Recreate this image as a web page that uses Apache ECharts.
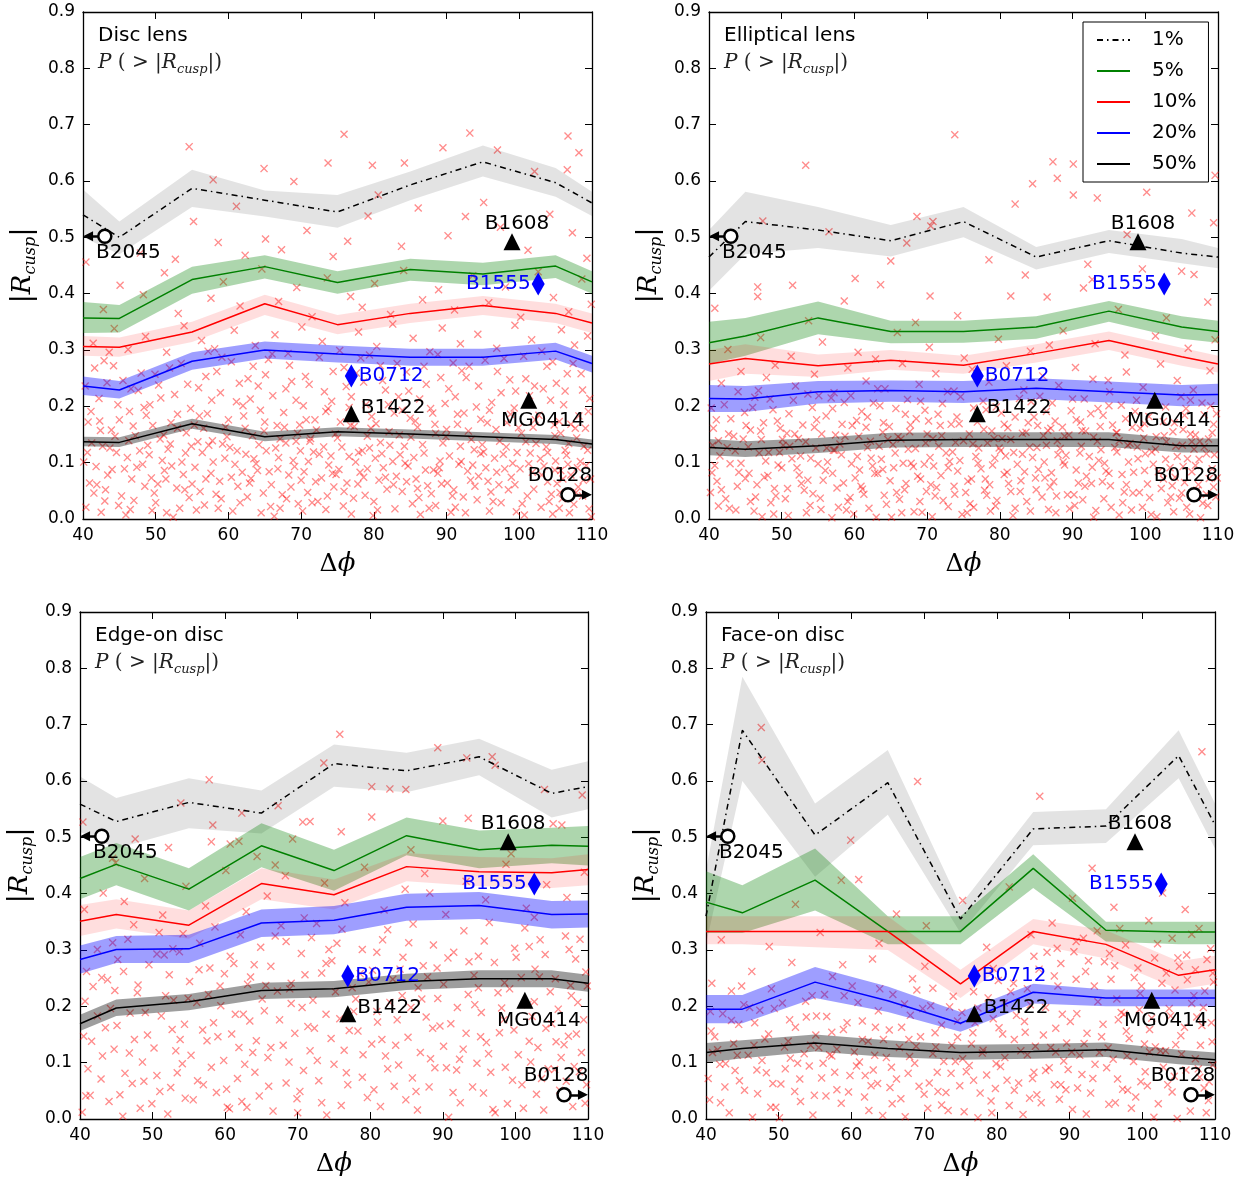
<!DOCTYPE html>
<html>
<head>
<meta charset="utf-8">
<script src="https://cdn.jsdelivr.net/npm/echarts@6/dist/echarts.min.js"></script>
<style>
html, body { margin: 0; padding: 0; background: #fff; }
#main { width: 1250px; height: 1183px; }
</style>
</head>
<body>
<div id="main"></div>
<script>
// opening angle bins
var dphi = [40, 45, 55, 65, 75, 85, 95, 105, 110];
var levelNames = ['1%', '5%', '10%', '20%', '50%'];

// each row: [line, band low, band high]
var discP1 = [[.54,.50,.585],[.50,.47,.528],[.587,.554,.62],[.566,.537,.583],[.545,.517,.575],[.593,.566,.617],[.634,.608,.663],[.597,.572,.623],[.561,.538,.581]];
var discP5 = [[.357,.33,.385],[.356,.331,.38],[.425,.40,.448],[.448,.427,.468],[.42,.40,.44],[.443,.423,.462],[.435,.415,.455],[.449,.428,.468],[.421,.40,.44]];
var discP10 = [[.306,.29,.325],[.305,.288,.322],[.332,.314,.35],[.382,.362,.398],[.345,.328,.362],[.365,.348,.382],[.379,.362,.396],[.365,.348,.382],[.348,.33,.365]];
var discP20 = [[.236,.22,.253],[.229,.214,.245],[.28,.265,.296],[.30,.285,.315],[.293,.278,.308],[.287,.272,.302],[.287,.272,.302],[.298,.283,.313],[.276,.26,.29]];
var discP50 = [[.137,.129,.146],[.136,.128,.145],[.169,.16,.178],[.146,.138,.155],[.155,.147,.163],[.151,.143,.159],[.146,.138,.154],[.141,.133,.149],[.133,.125,.141]];

var ellP1 = [[.465,.405,.513],[.528,.47,.581],[.513,.481,.554],[.494,.466,.522],[.528,.50,.554],[.465,.443,.483],[.494,.472,.513],[.472,.454,.497],[.465,.445,.481]];
var ellP5 = [[.313,.275,.35],[.325,.29,.357],[.357,.328,.386],[.333,.312,.352],[.333,.313,.352],[.341,.32,.36],[.369,.35,.387],[.341,.32,.36],[.333,.313,.352]];
var ellP10 = [[.275,.245,.30],[.285,.258,.31],[.272,.252,.292],[.282,.265,.30],[.273,.258,.29],[.294,.278,.31],[.317,.30,.333],[.288,.272,.304],[.275,.26,.29]];
var ellP20 = [[.214,.19,.238],[.213,.19,.236],[.226,.205,.245],[.228,.208,.246],[.226,.206,.245],[.232,.213,.25],[.226,.207,.244],[.22,.20,.238],[.221,.202,.24]];
var ellP50 = [[.127,.113,.142],[.124,.11,.138],[.13,.117,.144],[.14,.127,.153],[.141,.128,.154],[.141,.128,.154],[.141,.128,.154],[.13,.118,.143],[.13,.118,.143]];

var edgeP1 = [[.559,.51,.608],[.528,.48,.57],[.562,.516,.605],[.543,.507,.583],[.631,.59,.665],[.618,.58,.65],[.643,.61,.675],[.578,.535,.62],[.59,.55,.635]];
var edgeP5 = [[.427,.39,.465],[.452,.415,.49],[.408,.37,.445],[.485,.447,.525],[.441,.405,.478],[.503,.468,.535],[.478,.445,.512],[.486,.454,.517],[.484,.45,.52]];
var edgeP10 = [[.351,.325,.38],[.363,.338,.39],[.344,.32,.37],[.418,.39,.445],[.398,.372,.425],[.448,.422,.472],[.439,.413,.465],[.437,.41,.463],[.443,.415,.47]];
var edgeP20 = [[.283,.258,.308],[.301,.277,.325],[.302,.277,.327],[.348,.323,.372],[.353,.328,.378],[.376,.352,.40],[.379,.355,.403],[.363,.338,.387],[.364,.34,.388]];
var edgeP50 = [[.169,.156,.185],[.197,.183,.212],[.208,.193,.222],[.228,.213,.242],[.231,.216,.245],[.244,.229,.258],[.249,.234,.264],[.249,.234,.264],[.241,.226,.256]];

var faceP1 = [[.36,.31,.442],[.69,.60,.785],[.504,.43,.56],[.597,.54,.655],[.355,.33,.38],[.515,.486,.545],[.52,.49,.55],[.645,.605,.69],[.522,.48,.56]];
var faceP5 = [[.385,.33,.44],[.366,.33,.415],[.424,.37,.48],[.333,.31,.36],[.333,.31,.36],[.445,.41,.47],[.335,.315,.35],[.332,.31,.35],[.332,.31,.35]];
var faceP10 = [[.333,.31,.36],[.333,.31,.36],[.333,.305,.36],[.333,.30,.36],[.24,.215,.265],[.333,.31,.355],[.31,.285,.335],[.255,.23,.28],[.265,.24,.29]];
var faceP20 = [[.195,.17,.22],[.195,.17,.22],[.243,.215,.27],[.21,.19,.235],[.17,.155,.19],[.225,.205,.24],[.215,.20,.23],[.215,.20,.23],[.215,.20,.23]];
var faceP50 = [[.118,.10,.135],[.125,.108,.14],[.135,.12,.15],[.125,.11,.14],[.118,.105,.132],[.12,.107,.133],[.123,.11,.136],[.11,.097,.123],[.105,.093,.118]];

// observed lenses
var lensNames = ['B2045', 'B1608', 'B1555', 'B0712', 'B1422', 'MG0414', 'B0128'];
var lensDphi = [43.0, 99.0, 102.6, 76.9, 76.9, 101.3, 106.7];
var lensR = [0.502, 0.492, 0.417, 0.254, 0.187, 0.211, 0.043];

// simulated cusp values
var discPts = [
[40.4,.021],[41.8,.093],[43.1,.052],[44.6,.118],[45.9,.007],[46.7,.071],[41.2,.135],[42.5,.012],[44.0,.088],[45.3,.041],[46.1,.109],[40.9,.064],[43.7,.126],[47.0,.033],
[48.2,.097],[49.5,.015],[50.3,.062],[51.7,.124],[52.4,.003],[53.8,.079],[54.6,.038],[48.9,.131],[50.9,.104],[52.9,.055],[54.1,.117],[49.8,.046],[51.2,.086],[53.3,.019],
[55.4,.092],[56.7,.025],[57.3,.131],[58.8,.067],[59.5,.108],[60.6,.014],[61.9,.083],[56.1,.049],[57.9,.101],[59.0,.036],[60.2,.127],[61.3,.058],[62.4,.115],[55.8,.137],
[63.1,.072],[64.5,.011],[65.2,.121],[66.8,.089],[67.4,.043],[68.9,.104],[69.6,.027],[63.8,.098],[65.9,.061],[67.9,.135],[68.3,.078],[69.1,.093],[64.2,.132],[66.3,.005],
[70.4,.084],[71.7,.119],[72.3,.031],[73.8,.096],[74.5,.057],[75.6,.128],[76.9,.009],[70.9,.047],[72.8,.073],[74.1,.112],[75.2,.088],[76.3,.064],[71.2,.138],[73.4,.017],
[77.5,.101],[78.8,.042],[79.4,.126],[80.7,.069],[81.3,.091],[82.9,.018],[83.6,.114],[78.1,.083],[79.9,.006],[81.8,.053],[82.2,.131],[83.1,.076],[77.8,.062],[80.2,.108],
[84.7,.094],[85.3,.027],[86.9,.117],[87.4,.059],[88.8,.081],[89.5,.135],[90.6,.012],[85.8,.071],[87.9,.045],[89.1,.103],[84.2,.129],[86.4,.008],[88.2,.087],[90.1,.064],
[91.7,.097],[92.3,.039],[93.8,.123],[94.4,.076],[95.9,.014],[96.6,.108],[97.2,.061],[92.9,.085],[94.9,.132],[96.1,.048],[91.2,.021],[93.3,.069],[95.4,.091],[97.8,.115],
[98.5,.052],[99.7,.118],[100.4,.027],[101.8,.083],[102.3,.134],[103.9,.066],[104.6,.009],[99.1,.099],[101.1,.041],[102.9,.107],[98.9,.074],[100.9,.137],[103.4,.094],[104.1,.031],
[105.7,.086],[106.3,.122],[107.8,.047],[108.4,.102],[109.6,.018],[105.2,.063],[106.9,.011],[108.9,.129],[107.1,.078],[109.2,.095],[105.9,.036],[108.1,.057],[106.5,.113],[109.8,.071],
[40.1,.101],[41.5,.046],[42.7,.129],[43.4,.078],[44.9,.024],[46.3,.139],[47.4,.092],[48.5,.058],[49.1,.114],[50.0,.029],
[51.4,.071],[52.0,.133],[53.6,.101],[55.0,.062],[55.6,.016],[56.4,.118],[57.6,.081],[58.3,.044],[59.2,.133],[60.9,.097],
[61.6,.029],[62.9,.064],[63.5,.107],[64.8,.046],[65.6,.084],[66.5,.126],[67.1,.019],[68.6,.057],[69.9,.121],[70.2,.014],
[71.0,.102],[72.0,.066],[73.1,.128],[73.6,.041],[74.8,.079],[75.8,.023],[76.6,.111],[77.2,.037],[78.4,.121],[79.1,.089],
[80.0,.031],[80.9,.136],[81.6,.074],[82.6,.102],[83.9,.049],[84.5,.066],[85.5,.109],[86.2,.038],[87.1,.087],[88.5,.024],
[89.3,.062],[90.4,.112],[91.0,.052],[91.9,.129],[92.6,.011],[93.6,.096],[94.2,.034],[95.1,.119],[95.7,.067],[96.9,.083],
[97.5,.029],[98.2,.128],[99.4,.061],[100.1,.089],[100.7,.007],[101.5,.117],[102.0,.053],[103.1,.078],[103.7,.128],[104.4,.044],
[105.0,.103],[105.5,.019],[106.0,.071],[106.8,.134],[107.5,.026],[108.0,.091],[108.7,.041],[109.4,.122],[109.9,.004],[104.9,.087],
[40.6,.118],[41.9,.061],[42.3,.174],[43.0,.032],[44.4,.147],[45.7,.089],[46.5,.017],[47.8,.121],[48.4,.198],[49.4,.073],
[50.6,.142],[51.5,.011],[52.2,.094],[53.0,.161],[54.0,.052],[54.9,.129],[56.0,.183],[56.9,.071],[57.8,.139],[58.6,.019],
[59.6,.163],[60.4,.074],[61.2,.121],[62.0,.201],[62.6,.039],[63.3,.148],[64.0,.086],[65.0,.172],[65.8,.022],[66.9,.109],
[67.7,.163],[68.0,.036],[69.3,.138],[70.0,.069],[70.7,.176],[71.5,.029],[72.5,.115],[73.4,.191],[74.3,.081],[75.0,.144],
[75.9,.049],[76.8,.166],[77.9,.118],[78.6,.074],[79.6,.161],[80.5,.016],[81.1,.116],[82.0,.203],[82.7,.061],[83.5,.149],
[84.3,.099],[85.0,.179],[86.0,.054],[86.7,.132],[87.6,.019],[88.4,.168],[89.0,.091],[89.9,.146],[90.8,.041],[91.5,.186],
[92.0,.102],[93.0,.156],[93.9,.058],[94.7,.116],[95.6,.171],[96.4,.031],[97.3,.138],[98.0,.089],[98.8,.186],[99.6,.013],
[100.3,.152],[101.3,.098],[102.2,.176],[103.0,.021],[103.9,.118],[104.8,.167],[105.6,.047],[106.7,.097],[107.7,.161],[108.8,.069],
[40.7,.172],[42.2,.214],[43.9,.158],[45.5,.246],[46.4,.191],[41.6,.268],[44.8,.203],[42.9,.281],[46.9,.165],[47.6,.228],
[48.7,.184],[49.9,.257],[51.1,.149],[52.6,.221],[53.5,.276],[54.8,.196],[50.4,.238],[52.1,.171],[49.2,.203],[54.2,.153],
[55.9,.233],[57.1,.187],[58.4,.262],[59.8,.146],[61.1,.208],[62.7,.249],[56.6,.161],[60.4,.279],[58.9,.224],[62.1,.183],
[63.4,.271],[64.9,.156],[66.1,.219],[67.6,.189],[68.7,.244],[69.8,.167],[65.5,.283],[67.1,.142],[64.1,.236],[69.3,.211],
[70.6,.253],[71.9,.176],[73.2,.226],[74.7,.151],[75.9,.269],[76.6,.198],[72.5,.287],[74.2,.209],[71.3,.143],[76.2,.235],
[77.3,.164],[78.6,.243],[79.7,.182],[80.9,.272],[82.1,.155],[83.4,.217],[78.2,.286],[81.6,.229],[79.1,.147],[83.9,.193],
[84.5,.261],[85.7,.174],[87.2,.239],[88.5,.152],[89.8,.205],[90.9,.277],[86.3,.213],[88.1,.188],[85.1,.145],[90.3,.231],
[91.5,.168],[92.7,.251],[94.1,.199],[95.3,.282],[96.8,.159],[97.5,.224],[93.4,.141],[96.2,.207],[92.1,.263],[94.7,.177],
[98.7,.247],[99.9,.162],[101.4,.219],[102.7,.184],[103.8,.271],[104.9,.148],[100.6,.289],[102.1,.236],[99.3,.197],[104.3,.211],
[105.5,.173],[106.6,.258],[107.9,.144],[108.7,.229],[109.5,.191],[106.1,.203],[107.4,.276],[109.1,.161],[105.1,.241],[108.2,.183],
[40.3,.236],[41.1,.191],[42.4,.157],[43.3,.242],[44.2,.272],[45.0,.176],[46.6,.231],[47.2,.148],[48.0,.259],[49.6,.166],
[50.7,.215],[51.9,.268],[53.0,.186],[54.4,.239],[55.3,.167],[56.9,.253],[57.7,.211],[59.1,.287],[60.0,.176],[61.5,.241],
[62.3,.161],[63.0,.213],[64.4,.193],[65.1,.256],[66.7,.166],[67.9,.231],[68.4,.273],[69.5,.152],[70.3,.201],[71.1,.239],
[72.1,.158],[73.7,.196],[74.4,.262],[75.4,.172],[76.9,.217],[77.6,.259],[78.9,.203],[80.3,.169],[81.2,.246],[82.8,.188],
[83.2,.276],[84.8,.227],[86.0,.163],[86.9,.271],[87.8,.196],[89.2,.251],[90.0,.159],[91.2,.217],[92.4,.188],[93.1,.271],
[94.4,.236],[95.9,.193],[97.0,.262],[98.3,.171],[99.5,.227],[100.9,.249],[101.9,.163],[103.3,.231],[104.6,.279],[106.3,.227],
[107.1,.168],[108.5,.258],[109.7,.214],[105.7,.152],[97.9,.285],[88.8,.292],[79.4,.291],[57.2,.298],[43.6,.296],[66.0,.293],
[41.4,.312],[44.3,.338],[46.2,.301],[48.6,.324],[51.5,.296],[53.9,.343],[56.3,.317],[58.1,.302],[60.8,.335],[63.7,.308],
[66.4,.327],[68.2,.294],[70.1,.341],[72.9,.315],[75.3,.299],[77.9,.332],[80.4,.306],[82.6,.346],[85.4,.321],[87.7,.297],
[89.4,.339],[91.9,.311],[94.3,.328],[96.9,.303],[99.4,.344],[101.7,.318],[103.1,.298],[105.8,.336],[107.6,.309],[109.4,.325],
[42.8,.372],[45.1,.415],[48.3,.398],[51.2,.437],[53.1,.365],[57.6,.392],[59.3,.421],[61.6,.378],[64.6,.444],[66.9,.386],
[69.4,.411],[71.5,.359],[73.6,.428],[76.8,.395],[78.4,.376],[80.1,.418],[82.3,.363],[84.1,.441],[86.7,.389],[88.9,.407],
[91.1,.371],[93.6,.432],[95.8,.384],[98.1,.412],[100.2,.358],[102.6,.439],[104.7,.393],[106.8,.368],[108.6,.426],[109.9,.381],
[40.4,.456],[47.9,.472],[52.7,.461],[55.2,.528],[58.6,.491],[62.3,.468],[65.1,.497],[67.3,.478],[70.8,.512],[74.4,.466],
[76.4,.493],[79.2,.538],[83.8,.484],[86.1,.552],[90.2,.503],[92.6,.537],[97.4,.518],[101.2,.477],[104.2,.541],[107.3,.508],
[109.3,.463],[61.1,.555],[80.6,.575],[95.1,.562],
[54.6,.661],[57.9,.602],[64.9,.622],[69.0,.599],[75.9,.683],[93.2,.685],[106.7,.68],[108.2,.65],[73.7,.632],[79.8,.628],
[84.2,.632],[89.5,.659],[97.0,.655],[106.6,.62],[102.1,.617]
];

var ellPts = [
[40.2,.047],[41.5,.112],[42.8,.019],[44.1,.083],[45.4,.128],[46.6,.061],[47.3,.004],[40.8,.095],[42.3,.036],[43.6,.121],[45.0,.072],[46.2,.014],[47.8,.103],[41.1,.067],
[48.5,.029],[49.7,.118],[50.8,.054],[52.1,.091],[53.4,.011],[54.7,.126],[48.1,.077],[49.2,.041],[51.4,.107],[52.7,.063],[53.9,.024],[55.0,.098],[50.2,.131],[54.3,.045],
[55.7,.069],[56.9,.002],[58.2,.114],[59.4,.038],[60.7,.087],[61.8,.127],[56.3,.101],[57.6,.055],[58.9,.016],[60.1,.073],[61.3,.044],[62.5,.094],[57.1,.122],[59.9,.009],
[63.2,.081],[64.4,.026],[65.6,.117],[66.9,.052],[68.1,.093],[69.3,.012],[63.7,.106],[64.9,.068],[66.2,.035],[67.4,.124],[68.7,.076],[69.9,.049],[65.1,.003],[67.8,.099],
[70.5,.061],[71.6,.129],[72.9,.022],[74.2,.085],[75.3,.047],[76.7,.111],[70.9,.094],[72.2,.033],[73.5,.119],[74.8,.008],[76.1,.071],[71.3,.056],[73.1,.102],[75.9,.027],
[77.4,.089],[78.7,.014],[79.9,.126],[81.2,.063],[82.4,.097],[83.7,.031],[77.9,.051],[79.3,.108],[80.6,.079],[81.8,.006],[83.1,.115],[78.2,.042],[80.1,.121],[82.9,.068],
[84.5,.109],[85.8,.039],[87.1,.082],[88.3,.125],[89.6,.018],[90.8,.064],[84.9,.073],[86.4,.131],[87.7,.011],[88.9,.096],[90.2,.043],[85.3,.088],[86.9,.057],[89.1,.113],
[91.4,.034],[92.7,.092],[93.9,.123],[95.2,.059],[96.4,.007],[97.7,.101],[91.9,.076],[93.2,.015],[94.6,.085],[95.8,.127],[97.1,.048],[92.3,.111],[94.1,.066],[96.9,.029],
[98.4,.083],[99.6,.021],[100.9,.119],[102.2,.054],[103.4,.091],[104.7,.037],[98.9,.128],[100.3,.062],[101.6,.004],[102.8,.106],[104.1,.074],[99.2,.047],[101.1,.097],[103.9,.013],
[105.4,.065],[106.7,.124],[107.9,.028],[109.2,.089],[105.8,.107],[107.1,.051],[108.4,.116],[109.7,.039],[106.1,.009],[108.8,.072],[105.1,.131],[106.4,.084],[107.6,.002],[109.4,.057],
[40.4,.082],[41.3,.023],[42.5,.127],[43.9,.058],[44.4,.099],[45.7,.031],[46.9,.117],[47.6,.074],[48.9,.009],[49.5,.096],
[50.5,.036],[51.1,.129],[52.4,.078],[53.1,.051],[54.0,.108],[55.4,.017],[56.0,.086],[57.3,.122],[58.5,.064],[59.1,.031],
[60.4,.111],[61.1,.053],[62.0,.019],[62.8,.081],[63.4,.129],[64.1,.042],[65.4,.091],[66.5,.011],[67.1,.063],[68.4,.125],
[69.0,.031],[69.6,.097],[70.7,.004],[71.9,.077],[72.6,.117],[73.8,.044],[74.5,.104],[75.6,.067],[76.4,.021],[77.1,.126],
[78.0,.071],[79.0,.096],[79.6,.033],[80.8,.112],[81.5,.049],[82.1,.019],[83.4,.084],[84.1,.128],[85.0,.052],[86.1,.101],
[86.7,.017],[87.4,.066],[88.0,.114],[89.3,.043],[90.5,.087],[91.2,.129],[91.7,.058],[92.9,.003],[93.6,.104],[94.3,.036],
[95.0,.081],[96.1,.119],[97.4,.061],[98.1,.016],[99.0,.107],[99.9,.086],[100.6,.038],[101.4,.124],[102.5,.071],[103.1,.029],
[104.4,.111],[105.0,.046],[105.7,.021],[106.9,.095],[107.3,.061],[108.1,.128],[108.6,.024],[109.5,.114],[109.9,.073],[103.7,.059],
[40.5,.131],[41.7,.052],[42.9,.098],[43.7,.016],[44.7,.142],[45.5,.081],[46.4,.039],[47.1,.156],[48.2,.118],[49.0,.054],
[50.0,.091],[50.9,.006],[51.8,.151],[52.6,.112],[53.6,.069],[54.5,.163],[55.3,.037],[56.2,.126],[57.0,.081],[57.8,.021],
[58.7,.147],[59.6,.098],[60.9,.058],[61.6,.163],[62.3,.108],[63.0,.003],[63.9,.088],[64.6,.141],[65.8,.047],[66.7,.099],
[67.6,.155],[68.2,.013],[69.1,.071],[69.8,.135],[70.4,.109],[71.1,.041],[72.0,.148],[72.9,.091],[73.7,.058],[74.4,.169],
[75.5,.011],[76.3,.133],[77.0,.099],[77.8,.159],[78.6,.061],[79.4,.023],[80.3,.143],[81.0,.083],[81.9,.118],[82.8,.049],
[83.6,.154],[84.2,.014],[85.1,.127],[86.2,.073],[87.0,.161],[87.8,.041],[88.7,.101],[89.5,.149],[90.3,.024],[91.0,.117],
[91.8,.156],[92.6,.063],[93.4,.138],[94.4,.099],[95.3,.021],[96.0,.153],[96.8,.079],[97.6,.131],[98.3,.046],[99.3,.161],
[100.0,.116],[100.8,.008],[101.8,.084],[102.6,.148],[103.5,.039],[104.2,.129],[105.2,.093],[106.2,.151],[107.4,.106],[108.4,.044],
[40.6,.161],[42.1,.203],[43.4,.147],[44.9,.189],[46.3,.216],[47.5,.171],[41.3,.139],[45.7,.158],[43.0,.178],
[48.8,.194],[50.1,.141],[51.6,.211],[52.9,.167],[54.2,.198],[49.4,.174],[53.3,.137],[55.1,.219],[50.7,.152],
[56.1,.183],[57.4,.149],[58.6,.207],[59.7,.166],[61.0,.191],[62.2,.138],[56.8,.215],[60.3,.175],[58.0,.133],
[63.5,.201],[64.8,.164],[66.0,.146],[67.3,.212],[68.5,.178],[69.7,.193],[65.3,.132],[67.0,.186],[63.9,.154],
[70.8,.143],[72.1,.205],[73.3,.168],[74.6,.217],[75.8,.151],[71.5,.186],[76.4,.197],[73.9,.136],[70.2,.174],
[77.7,.209],[78.9,.156],[80.2,.188],[81.5,.141],[82.7,.214],[83.9,.171],[79.5,.199],[81.1,.162],[78.3,.135],
[84.7,.181],[86.0,.148],[87.2,.206],[88.6,.163],[89.8,.192],[85.5,.218],[87.9,.139],[90.5,.176],[86.6,.157],
[91.6,.213],[92.9,.145],[94.2,.184],[95.5,.167],[96.7,.202],[97.9,.134],[93.5,.196],[91.1,.172],[96.1,.153],
[98.6,.191],[99.8,.144],[101.2,.208],[102.5,.173],[103.8,.155],[104.9,.217],[100.5,.182],[98.2,.163],[102.9,.137],
[105.6,.196],[106.9,.149],[108.1,.185],[109.4,.168],[106.2,.211],[107.5,.138],[109.0,.201],[105.2,.159],[108.7,.142],
[40.3,.197],[41.0,.176],[42.7,.151],[44.0,.226],[45.1,.166],[46.0,.198],[47.2,.141],[48.4,.213],[49.8,.161],[51.0,.187],
[52.3,.143],[53.6,.222],[54.8,.176],[55.5,.151],[57.0,.196],[58.3,.168],[59.5,.219],[60.6,.147],[61.8,.181],[62.6,.206],
[64.0,.171],[65.7,.196],[66.4,.142],[67.7,.167],[69.1,.209],[70.0,.151],[71.8,.166],[72.8,.226],[74.1,.181],[75.0,.139],
[76.9,.172],[78.1,.194],[79.2,.143],[80.6,.168],[82.1,.181],[83.1,.152],[84.3,.208],[85.2,.166],[86.4,.191],[87.6,.174],
[88.9,.147],[90.0,.213],[91.3,.157],[92.5,.187],[93.8,.164],[95.0,.201],[96.4,.139],[97.3,.178],[98.8,.211],[99.9,.169],
[101.5,.146],[102.8,.199],[104.0,.171],[105.4,.184],[106.4,.137],[107.8,.206],[109.2,.153],[109.8,.187],[63.2,.231],[94.9,.246],
[41.7,.241],[44.4,.262],[46.8,.228],[49.1,.273],[51.9,.236],[54.5,.257],[57.2,.224],[59.1,.268],[61.6,.245],[64.2,.231],
[66.6,.276],[68.9,.239],[71.2,.258],[73.7,.227],[76.2,.266],[78.5,.243],[80.9,.272],[83.3,.229],[85.9,.254],[88.1,.237],
[90.4,.269],[92.8,.248],[95.1,.226],[97.4,.261],[99.7,.234],[102.1,.275],[104.4,.246],[106.6,.229],[108.9,.263],[47.9,.251],
[42.6,.301],[47.1,.322],[51.3,.289],[55.6,.314],[60.5,.296],[65.9,.331],[70.3,.305],[75.1,.286],[79.8,.319],[84.2,.298],
[88.7,.334],[93.1,.311],[97.2,.291],[101.4,.325],[105.9,.303],[109.6,.318],[62.9,.284],[86.8,.309],
[40.8,.374],[46.7,.412],[46.7,.395],[51.5,.415],[58.6,.387],[60.1,.427],[63.6,.416],[65.0,.458],[70.4,.396],[74.2,.361],
[78.5,.46],[81.5,.396],[83.5,.433],[86.5,.394],[91.5,.41],[92.1,.452],[92.7,.425],[96.3,.372],[99.6,.444],[105.0,.44],
[106.7,.434],[108.6,.385],[53.7,.352],[68.4,.349],[102.9,.357],
[73.8,.682],[87.3,.634],[90.1,.63],[87.9,.605],[84.5,.595],[90.1,.575],[93.4,.57],[82.1,.559],[106.4,.543],[109.4,.526],
[70.8,.528],[53.3,.628],[47.4,.529],[56.5,.51],[68.6,.537],[70.5,.52],[67.2,.49],[100.2,.58],[109.6,.61],[97.5,.505]
];

var edgePts = [
[40.3,.012],[41.6,.138],[42.9,.071],[44.2,.196],[45.5,.043],[46.8,.117],[47.9,.224],[41.1,.089],[43.5,.162],[45.9,.005],[47.2,.063],[40.7,.209],
[48.6,.101],[49.9,.027],[51.2,.183],[52.5,.056],[53.8,.141],[54.9,.214],[49.3,.149],[50.6,.077],[52.1,.009],[53.2,.121],[54.4,.168],[51.8,.219],
[55.6,.034],[56.9,.158],[58.1,.092],[59.4,.201],[60.6,.018],[61.9,.127],[56.2,.068],[57.7,.221],[59.0,.146],[60.2,.053],[61.4,.186],[62.7,.097],
[63.4,.174],[64.7,.041],[65.9,.109],[67.2,.227],[68.4,.064],[69.6,.152],[64.1,.083],[65.4,.192],[66.6,.014],[68.0,.131],[69.1,.205],[63.8,.118],
[70.8,.086],[72.1,.211],[73.3,.029],[74.6,.143],[75.8,.178],[76.9,.061],[71.4,.164],[72.7,.104],[74.0,.007],[75.2,.226],[76.4,.122],[70.3,.049],
[77.7,.191],[78.9,.074],[80.2,.133],[81.4,.022],[82.7,.207],[83.9,.096],[78.3,.156],[79.6,.038],[81.0,.172],[82.1,.112],[83.3,.058],[84.4,.219],
[85.2,.145],[86.5,.016],[87.7,.181],[88.9,.091],[90.1,.129],[91.4,.047],[85.8,.073],[87.1,.213],[88.3,.107],[89.6,.165],[90.8,.003],[92.0,.198],
[92.8,.124],[94.1,.057],[95.3,.189],[96.6,.083],[97.8,.153],[98.9,.027],[93.5,.221],[94.7,.099],[96.0,.136],[97.2,.011],[98.4,.176],[99.6,.069],
[100.4,.114],[101.7,.203],[102.9,.044],[104.2,.161],[105.4,.088],[106.7,.132],[101.1,.019],[102.3,.182],[103.6,.072],[104.8,.226],[106.1,.051],[107.3,.147],
[108.1,.093],[109.4,.176],[107.9,.022],[109.1,.118],[108.6,.207],[109.8,.061],[105.9,.195],[103.1,.127],[99.2,.231],[91.9,.087],[62.3,.031],[44.8,.228],
[40.5,.147],[41.4,.042],[42.4,.183],[43.1,.112],[44.0,.031],[45.1,.166],[46.2,.081],[47.5,.141],[48.3,.019],[49.0,.189],
[50.2,.126],[51.0,.049],[52.7,.159],[53.4,.082],[54.5,.037],[55.3,.113],[56.1,.207],[57.0,.061],[58.4,.171],[59.8,.104],
[60.9,.151],[61.7,.072],[63.0,.021],[64.3,.139],[65.1,.213],[66.0,.058],[67.5,.176],[68.8,.101],[69.9,.036],[70.6,.198],
[71.7,.121],[72.9,.068],[73.9,.186],[75.0,.097],[76.0,.024],[77.1,.157],[78.0,.213],[79.0,.114],[80.5,.052],[81.6,.141],
[82.4,.089],[83.7,.176],[84.9,.034],[85.6,.198],[86.9,.118],[88.1,.057],[89.3,.214],[90.5,.091],[91.1,.169],[92.4,.029],
[93.2,.152],[94.4,.203],[95.6,.046],[96.3,.116],[97.6,.224],[98.6,.092],[99.8,.158],[100.9,.061],[101.9,.138],[102.6,.208],
[103.9,.016],[105.0,.169],[106.3,.109],[107.0,.067],[108.4,.151],[109.6,.028],[107.7,.219],[104.5,.089],[46.0,.262],[52.8,.302],
[59.9,.258],[66.9,.325],[73.9,.276],[80.9,.296],[87.9,.252],[94.9,.289],[101.9,.306],[108.9,.319],[63.1,.239],[85.3,.313],
[40.8,.041],[43.0,.251],[44.7,.124],[46.9,.188],[48.8,.067],[50.6,.293],[52.9,.211],[54.1,.098],[56.4,.265],[57.5,.139],
[60.3,.021],[62.5,.186],[64.0,.274],[66.3,.127],[68.9,.231],[70.0,.011],[72.3,.161],[74.3,.301],[76.7,.082],[78.6,.258],
[80.9,.191],[83.5,.131],[84.1,.266],[86.3,.049],[88.6,.161],[90.7,.286],[92.3,.106],[94.9,.233],[96.9,.017],[98.1,.197],
[100.1,.287],[102.1,.101],[103.3,.252],[105.6,.137],[107.4,.301],[108.8,.084],[109.9,.236],[95.2,.146],[71.0,.256],[58.8,.047],
[40.9,.262],[42.4,.301],[43.8,.247],[45.2,.283],[46.6,.319],[48.0,.238],[49.5,.274],[50.9,.331],[52.3,.256],[53.7,.297],
[55.1,.244],[56.5,.312],[57.9,.268],[59.3,.236],[60.7,.289],[62.1,.327],[63.5,.252],[64.9,.305],[66.3,.271],[67.7,.343],
[69.1,.241],[70.5,.294],[71.9,.322],[73.3,.259],[74.7,.281],[76.1,.337],[77.5,.233],[78.9,.301],[80.3,.264],[81.7,.318],
[83.1,.248],[84.5,.287],[85.9,.346],[87.3,.272],[88.7,.309],[90.1,.239],[91.5,.296],[92.9,.334],[94.3,.255],[95.7,.316],
[97.1,.278],[98.5,.242],[99.9,.303],[101.3,.339],[102.7,.266],[104.1,.292],[105.5,.249],[106.9,.325],[108.3,.284],[109.7,.261],
[41.8,.235],[47.4,.345],[54.2,.329],[58.6,.341],[65.6,.237],[72.6,.347],[79.8,.243],[86.6,.233],[93.6,.279],[100.8,.251],
[107.6,.237],[44.5,.313],[61.2,.276],[75.4,.312],[89.2,.268],[103.4,.318],[96.4,.349],[82.4,.336],[68.4,.315],[51.6,.291],
[40.6,.372],[43.2,.401],[46.1,.386],[48.9,.427],[51.4,.362],[54.6,.413],[57.3,.378],[60.1,.441],[62.9,.368],[65.8,.396],
[68.3,.432],[70.9,.357],[73.7,.419],[76.5,.384],[79.2,.447],[81.9,.371],[84.8,.408],[87.5,.436],[90.4,.363],[93.2,.422],
[95.9,.389],[98.7,.452],[101.5,.374],[104.3,.416],[107.1,.393],[109.5,.438],[44.9,.455],[66.9,.451],[88.2,.401],[102.6,.358],
[40.4,.527],[47.6,.497],[44.5,.463],[53.9,.561],[57.8,.602],[58.3,.522],[58.1,.492],[60.7,.488],[61.9,.493],[62.3,.543],
[67.3,.556],[70.7,.527],[69.3,.497],[75.8,.683],[73.6,.632],[80.2,.59],[82.7,.586],[84.9,.585],[89.3,.659],[96.8,.643],
[97.2,.628],[93.3,.641],[104.0,.585],[109.2,.575],[71.7,.528],[76.0,.51],[80.2,.536],[90.0,.529],[93.5,.534],[105.2,.524],
[106.4,.522],[85.6,.478],[99.4,.471],[64.4,.466],[52.2,.482]
];

var facePts = [
[40.5,.034],[41.9,.097],[43.2,.011],[44.6,.068],[45.8,.113],[47.1,.045],[48.3,.082],[40.9,.118],[42.6,.057],[46.4,.003],[47.7,.104],
[49.6,.021],[50.9,.089],[52.2,.049],[53.5,.116],[54.7,.007],[55.9,.073],[50.3,.062],[51.6,.108],[53.0,.031],[54.2,.094],[56.5,.041],
[57.3,.112],[58.6,.028],[59.8,.077],[61.1,.101],[62.4,.015],[63.6,.063],[58.0,.052],[60.4,.119],[61.8,.039],[63.0,.087],[64.3,.006],
[65.5,.092],[66.8,.036],[68.0,.111],[69.3,.058],[70.5,.019],[71.8,.083],[66.2,.071],[67.4,.004],[68.7,.099],[70.0,.044],[71.2,.116],
[73.0,.047],[74.3,.102],[75.5,.013],[76.8,.069],[78.0,.117],[79.2,.032],[73.7,.081],[74.9,.059],[76.2,.095],[77.4,.002],[78.6,.078],
[80.5,.093],[81.7,.024],[83.0,.064],[84.2,.114],[85.5,.043],[86.7,.086],[81.1,.109],[82.4,.051],[83.6,.008],[84.9,.072],[86.1,.029],
[87.9,.061],[89.2,.103],[90.4,.017],[91.7,.079],[92.9,.046],[94.1,.118],[88.6,.035],[89.8,.088],[91.1,.055],[92.3,.009],[93.5,.097],
[95.4,.026],[96.6,.071],[97.9,.112],[99.1,.039],[100.4,.084],[101.6,.003],[96.0,.106],[97.3,.053],[98.5,.019],[99.8,.066],[101.0,.119],
[102.9,.092],[104.1,.048],[105.4,.115],[106.6,.014],[107.9,.074],[109.1,.033],[103.5,.061],[104.8,.001],[106.0,.087],[107.3,.107],[108.5,.055],
[109.7,.096],[102.2,.027],[88.1,.119],[72.4,.025],[56.1,.099],[44.0,.086],[79.8,.054],[95.1,.091],[63.2,.113],[108.8,.011],
[40.3,.072],[41.2,.146],[42.0,.029],[43.5,.175],[44.3,.113],[45.3,.051],[46.0,.198],[47.0,.087],[48.6,.151],[49.2,.063],
[50.1,.002],[51.3,.138],[52.6,.099],[53.8,.181],[54.9,.042],[55.5,.127],[56.3,.221],[57.7,.083],[58.9,.159],[59.6,.048],
[60.7,.094],[61.5,.141],[62.7,.059],[63.9,.231],[64.8,.109],[65.6,.027],[66.9,.163],[67.8,.081],[68.9,.129],[69.8,.196],
[70.7,.064],[71.5,.153],[72.7,.102],[73.3,.015],[74.6,.174],[75.8,.084],[76.5,.133],[77.7,.046],[78.8,.215],[79.9,.098],
[80.8,.151],[81.4,.069],[82.7,.184],[83.3,.121],[84.5,.037],[85.8,.266],[86.4,.149],[87.2,.091],[88.4,.236],[89.5,.052],
[90.1,.173],[91.4,.113],[92.6,.281],[93.2,.072],[94.4,.146],[95.7,.248],[96.3,.029],[97.1,.189],[98.8,.102],[99.4,.268],
[100.7,.059],[101.3,.179],[102.7,.241],[103.2,.121],[104.4,.076],[105.1,.271],[105.8,.163],[106.4,.044],[107.1,.219],[108.0,.131],
[108.9,.283],[109.5,.171],[109.2,.066],[91.9,.321],[96.9,.338],[102.1,.311],[106.8,.328],[88.3,.303],[80.2,.246],[70.1,.271],
[40.6,.191],[42.7,.098],[44.9,.236],[46.6,.131],[48.9,.021],[50.5,.206],[52.9,.071],[55.2,.183],[57.0,.114],[59.0,.219],
[61.9,.077],[63.3,.163],[65.3,.056],[67.9,.141],[69.0,.229],[71.9,.049],[73.5,.199],[75.3,.107],[77.0,.171],[79.3,.011],
[81.9,.226],[83.9,.154],[85.1,.083],[86.9,.296],[89.0,.186],[90.9,.248],[92.0,.134],[94.8,.279],[96.5,.213],[98.0,.051],
[99.9,.236],[101.8,.128],[103.7,.196],[104.9,.286],[106.2,.247],[107.7,.089],[108.4,.198],[109.7,.259],[97.8,.156],[88.8,.061],
[40.7,.156],[42.3,.187],[43.8,.134],[45.2,.203],[46.7,.171],[48.1,.142],[49.4,.196],[50.8,.128],[52.3,.163],[53.7,.209],
[55.1,.149],[56.6,.182],[58.0,.124],[59.4,.171],[60.9,.207],[62.3,.138],[63.7,.192],[65.2,.158],[66.6,.127],[68.1,.184],
[69.5,.146],[70.9,.201],[72.4,.167],[73.8,.131],[75.2,.189],[76.7,.153],[78.1,.122],[79.5,.178],[81.0,.206],[82.4,.141],
[83.8,.173],[85.3,.129],[86.7,.198],[88.1,.161],[89.6,.135],[91.0,.187],[92.4,.152],[93.9,.208],[95.3,.126],[96.7,.176],
[98.2,.143],[99.6,.194],[101.0,.159],[102.5,.121],[103.9,.183],[105.3,.148],[106.8,.205],[108.2,.166],[109.6,.137],[41.6,.123],
[47.4,.193],[54.4,.131],[61.5,.174],[67.3,.204],[74.6,.145],[80.3,.162],[87.4,.127],[94.6,.168],[100.3,.133],[107.5,.181],
[44.5,.168],[57.3,.154],[71.6,.128],[84.6,.203],[97.5,.186],[104.6,.132],[51.5,.176],[64.4,.141],[77.4,.197],[90.3,.119],
[40.8,.241],[43.5,.227],[46.3,.262],[49.0,.231],[51.8,.278],[54.6,.219],[57.4,.253],[60.1,.236],[62.9,.284],[65.7,.221],
[68.4,.249],[71.2,.232],[74.0,.218],[76.8,.226],[79.5,.267],[82.3,.241],[85.1,.289],[87.9,.254],[90.6,.297],[93.4,.236],
[96.2,.272],[98.9,.251],[101.7,.286],[104.5,.229],[107.3,.265],[109.8,.243],[88.8,.276],[92.2,.262],[95.5,.294],[99.7,.223],
[103.3,.259],[106.1,.291],[108.6,.227],[84.2,.231],[58.8,.274],
[42.1,.318],[48.7,.306],[55.7,.331],[63.8,.312],[70.3,.343],[78.6,.305],[84.7,.327],[87.6,.348],[90.9,.315],[93.8,.334],
[97.7,.309],[100.9,.352],[104.1,.321],[107.8,.338],[109.4,.302],
[47.6,.695],[47.7,.637],[59.9,.495],[58.6,.424],[61.0,.425],[69.1,.599],[85.9,.573],[108.2,.652],[90.4,.392],[96.1,.376],
[81.7,.412],[52.3,.381],[66.2,.364],[102.8,.401],[75.3,.388],[105.9,.372],[93.1,.445]
];

// styles
var lineColors = ['#000000', '#008000', '#ff0000', '#0000ff', '#000000'];
var bandColors = ['rgba(0,0,0,0.11)', 'rgba(0,128,0,0.32)', 'rgba(255,0,0,0.13)', 'rgba(0,0,255,0.38)', 'rgba(0,0,0,0.38)'];
var xMark = 'path://M0,1.2L1.2,0L5,3.8L8.8,0L10,1.2L6.2,5L10,8.8L8.8,10L5,6.2L1.2,10L0,8.8L3.8,5Z';
var sans = 'DejaVu Sans';
var serif = 'DejaVu Serif';

var panels = [
	{ title: 'Disc lens', box: [83, 12, 509, 507], pts: discPts, levels: [discP1, discP5, discP10, discP20, discP50] },
	{ title: 'Elliptical lens', box: [709, 12, 509, 507], pts: ellPts, levels: [ellP1, ellP5, ellP10, ellP20, ellP50] },
	{ title: 'Edge-on disc', box: [80, 612, 508, 507], pts: edgePts, levels: [edgeP1, edgeP5, edgeP10, edgeP20, edgeP50] },
	{ title: 'Face-on disc', box: [706, 612, 509, 507], pts: facePts, levels: [faceP1, faceP5, faceP10, faceP20, faceP50] }
];

function xAxisCfg(gi, top) {
	return {
		type: 'value', gridIndex: gi, position: top ? 'top' : 'bottom',
		min: 40, max: 110, interval: 10,
		axisLine: { show: true, onZero: false, lineStyle: { color: '#000', width: 1.3 } },
		axisTick: { show: true, inside: true, length: 7, lineStyle: { color: '#000', width: 1 } },
		axisLabel: { show: !top, color: '#000', fontSize: 17, fontFamily: sans, margin: 8 },
		splitLine: { show: false },
		name: top ? '' : '{d|Δ}{p|ϕ}', nameLocation: 'middle', nameGap: 32,
		nameTextStyle: { rich: { d: { fontFamily: serif, fontSize: 25, color: '#000' }, p: { fontFamily: serif, fontStyle: 'italic', fontSize: 26, color: '#000' } } }
	};
}

function yAxisCfg(gi, right) {
	return {
		type: 'value', gridIndex: gi, position: right ? 'right' : 'left',
		min: 0, max: 0.9, interval: 0.1,
		axisLine: { show: true, onZero: false, lineStyle: { color: '#000', width: 1.3 } },
		axisTick: { show: true, inside: true, length: 7, lineStyle: { color: '#000', width: 1 } },
		axisLabel: { show: !right, color: '#000', fontSize: 17, fontFamily: sans, margin: 8,
			formatter: function (v) { return v.toFixed(1); } },
		splitLine: { show: false },
		name: right ? '' : '{b||}{r|R}{s|cusp}{b||}', nameLocation: 'middle', nameGap: 44, nameRotate: 90,
		nameTextStyle: { rich: {
			b: { fontFamily: serif, fontSize: 28, lineHeight: 32, color: '#000' },
			r: { fontFamily: serif, fontStyle: 'italic', fontSize: 26, lineHeight: 32, color: '#000' },
			s: { fontFamily: serif, fontStyle: 'italic', fontSize: 16, lineHeight: 32, verticalAlign: 'bottom', color: '#000' }
		} }
	};
}

function bandSeries(rows, k, ai) {
	return {
		type: 'custom', xAxisIndex: ai, yAxisIndex: ai, silent: true, z: 2,
		data: rows.map(function (r, j) { return [dphi[j], r[1], r[2]]; }),
		encode: { x: 0, y: [1, 2] },
		renderItem: function (params, api) {
			if (params.dataIndex !== 0) return null;
			var pts = [];
			for (var j = 0; j < rows.length; j++) pts.push(api.coord([dphi[j], rows[j][2]]));
			for (var m = rows.length - 1; m >= 0; m--) pts.push(api.coord([dphi[m], rows[m][1]]));
			return { type: 'polygon', shape: { points: pts }, style: { fill: bandColors[k], stroke: null } };
		}
	};
}

function lineSeries(rows, k, ai) {
	return {
		name: levelNames[k], type: 'line', xAxisIndex: ai, yAxisIndex: ai, z: 3, silent: true,
		symbol: 'none',
		data: rows.map(function (r, j) { return [dphi[j], r[0]]; }),
		lineStyle: { color: lineColors[k], width: 1.5, type: k === 0 ? [6, 4, 1.5, 4] : 'solid' },
		itemStyle: { color: lineColors[k] }
	};
}

// marker look for each lens
var lensLook = {
	B2045: { symbol: 'circle', size: 13, open: true, label: { position: [-1, 14] } },
	B1608: { symbol: 'triangle', size: 17, label: { position: 'top', distance: 0, offset: [5, 0] } },
	B1555: { symbol: 'diamond', size: [13, 23], blue: true, label: { position: 'left', distance: 1 } },
	B0712: { symbol: 'diamond', size: [13, 23], blue: true, label: { position: 'right', distance: 1 } },
	B1422: { symbol: 'triangle', size: 17, label: { position: 'right', distance: 1, offset: [0, -6] } },
	MG0414: { symbol: 'triangle', size: 17, label: { position: 'bottom', distance: 2, offset: [14, 0] } },
	B0128: { symbol: 'circle', size: 13, open: true, label: { position: 'top', distance: 1, offset: [-8, 0] } }
};

function lensSeries(ai) {
	var items = lensNames.map(function (n, j) {
		var look = lensLook[n];
		var col = look.blue ? '#0000ff' : '#000000';
		var lab = Object.assign({ show: true, formatter: n, color: col, fontSize: 20, fontFamily: sans }, look.label);
		return {
			value: [lensDphi[j], lensR[j]], name: n,
			symbol: look.symbol, symbolSize: look.size,
			itemStyle: look.open ? { color: '#fff', borderColor: '#000', borderWidth: 2.5, opacity: 1 } : { color: col, opacity: 1 },
			label: lab
		};
	});
	return { type: 'scatter', xAxisIndex: ai, yAxisIndex: ai, z: 6, silent: true, itemStyle: { opacity: 1 }, data: items };
}

function arrowSeries(ai) {
	// limits drawn as arrows towards the axis edges
	return {
		type: 'line', xAxisIndex: ai, yAxisIndex: ai, z: 5, silent: true, data: [],
		markLine: {
			silent: true, animation: false, symbol: ['none', 'triangle'], symbolSize: 10,
			label: { show: false },
			itemStyle: { color: '#000' },
			lineStyle: { color: '#000', width: 2.5, type: 'solid', opacity: 1 },
			data: [
				[{ coord: [lensDphi[0], lensR[0]] }, { coord: [40.7, lensR[0]] }],
				[{ coord: [lensDphi[6], lensR[6]] }, { coord: [109.3, lensR[6]] }]
			]
		}
	};
}

var option = {
	animation: false,
	backgroundColor: '#fff',
	grid: [], xAxis: [], yAxis: [], series: [], graphic: [],
	legend: {
		show: true, left: 1083, top: 22, orient: 'vertical', selectedMode: false,
		data: levelNames,
		itemWidth: 33, itemHeight: 14, itemGap: 11,
		borderColor: '#000', borderWidth: 1, backgroundColor: '#fff',
		padding: [8, 12, 8, 13],
		itemStyle: { color: 'rgba(0,0,0,0)', borderWidth: 0, opacity: 0 },
		textStyle: { color: '#000', fontSize: 20, fontFamily: sans, lineHeight: 20, padding: [0, 0, 0, 17] }
	}
};

panels.forEach(function (p, i) {
	var b = p.box;
	option.grid.push({ left: b[0], top: b[1], width: b[2], height: b[3], outerBoundsMode: 'none', containLabel: false });
	option.xAxis[2 * i] = xAxisCfg(i, false);
	option.xAxis[2 * i + 1] = xAxisCfg(i, true);
	option.yAxis[2 * i] = yAxisCfg(i, false);
	option.yAxis[2 * i + 1] = yAxisCfg(i, true);
	var ai = 2 * i;
	option.series.push({
		type: 'scatter', xAxisIndex: ai, yAxisIndex: ai, z: 1, silent: true,
		data: p.pts, symbol: xMark, symbolSize: 8,
		itemStyle: { color: 'rgba(255,0,0,0.45)', opacity: 1 }
	});
	p.levels.forEach(function (rows, k) {
		option.series.push(bandSeries(rows, k, ai));
	});
	p.levels.forEach(function (rows, k) {
		option.series.push(lineSeries(rows, k, ai));
	});
	option.series.push(arrowSeries(ai));
	option.series.push(lensSeries(ai));
	// panel captions
	option.graphic.push({
		type: 'text', x: b[0] + 15, y: b[1] + 24, z: 10,
		style: { text: p.title, fill: '#000', font: '20px "DejaVu Sans"', verticalAlign: 'middle' }
	});
	option.graphic.push({
		type: 'text', x: b[0] + 15, y: b[1] + 51, z: 10,
		style: {
			text: '{i|P}{n| ( > |}{i|R}{s|cusp}{n||)}', fill: '#222', verticalAlign: 'middle',
			rich: {
				i: { fontFamily: serif, fontStyle: 'italic', fontSize: 20, lineHeight: 26, fill: '#222' },
				n: { fontFamily: serif, fontSize: 20, lineHeight: 26, fill: '#222' },
				s: { fontFamily: serif, fontStyle: 'italic', fontSize: 13, lineHeight: 26, verticalAlign: 'bottom', fill: '#222' }
			}
		}
	});
});

var chart = echarts.init(document.getElementById('main'));
chart.setOption(option);
</script>
</body>
</html>
